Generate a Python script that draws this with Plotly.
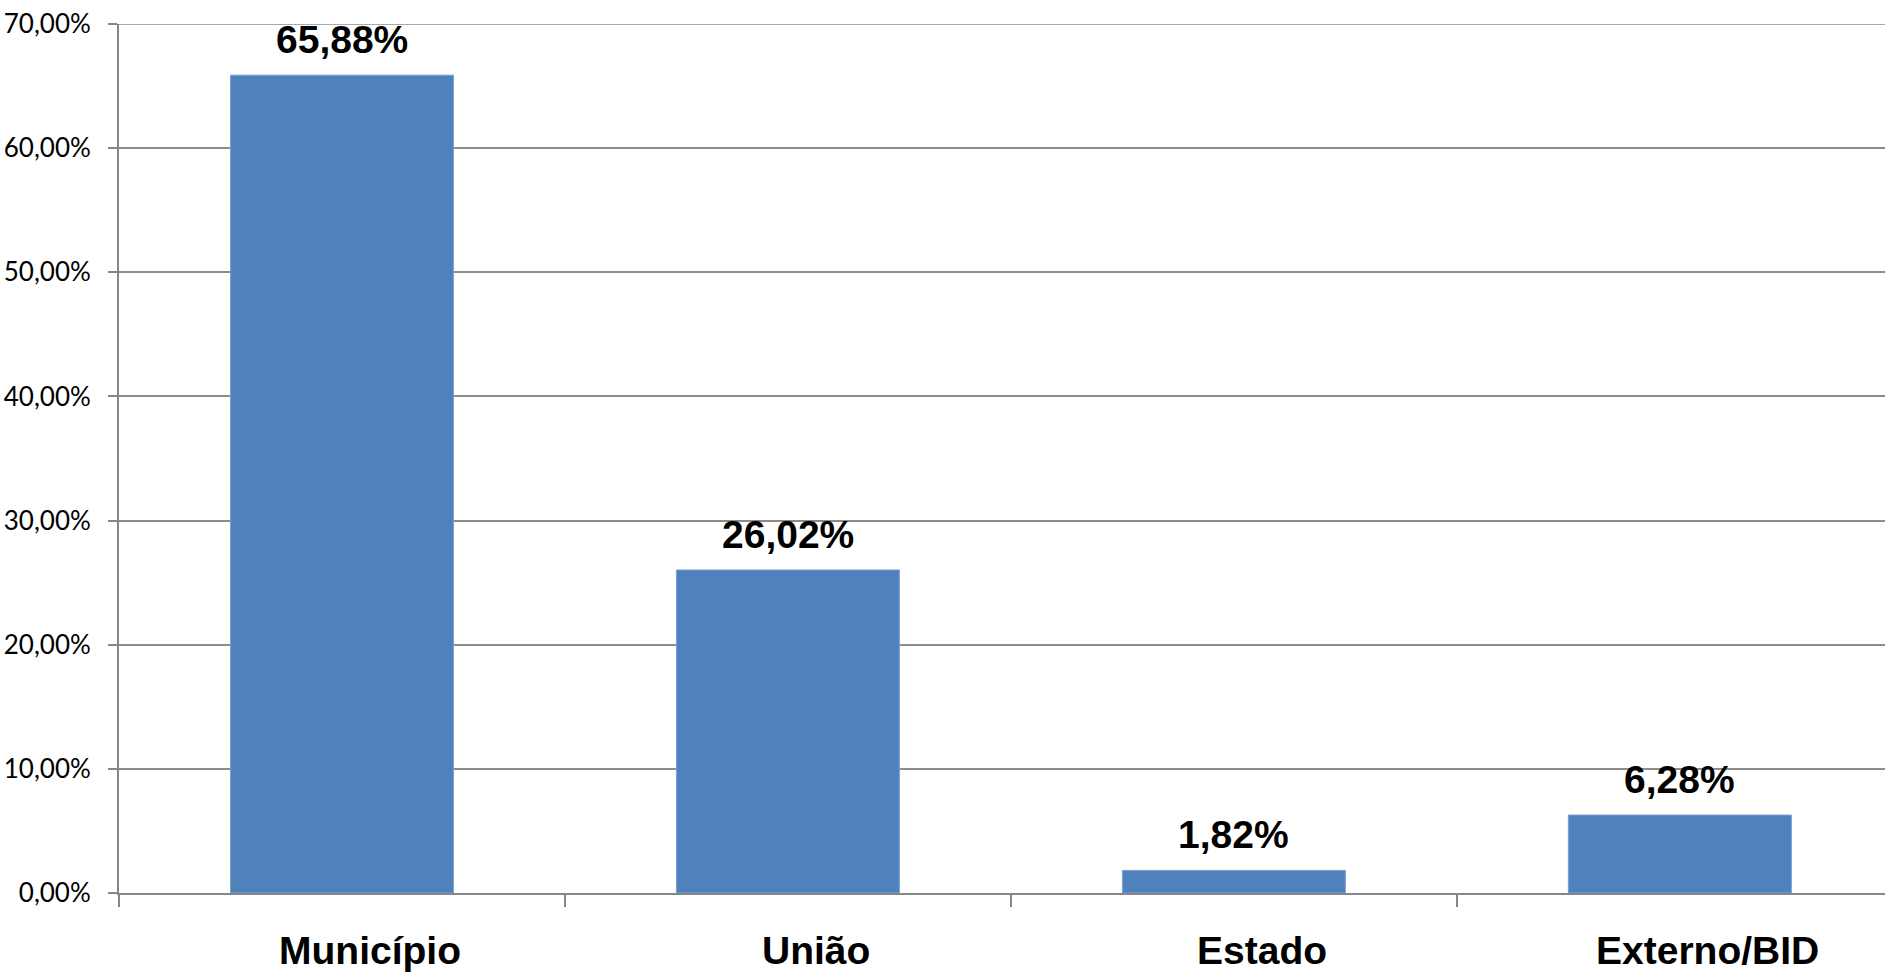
import plotly.graph_objects as go

categories = ["Município", "União", "Estado", "Externo/BID"]
values = [0.6588, 0.2602, 0.0182, 0.0628]
value_labels = ["65,88%", "26,02%", "1,82%", "6,28%"]
y_tickvals = [0, 0.1, 0.2, 0.3, 0.4, 0.5, 0.6, 0.7]
y_ticktext = ["0,00%", "10,00%", "20,00%", "30,00%", "40,00%", "50,00%", "60,00%", "70,00%"]

fig = go.Figure()
fig.add_trace(go.Bar(
    x=categories, y=values,
    marker=dict(color="#4F81BD", line=dict(color="#7BA0D4", width=1)),
    width=0.5,
    hoverinfo="skip",
))

label_font = dict(family="Liberation Sans", size=39, color="black", weight="bold")

# value labels above bars
for c, v, t in zip(categories, values, value_labels):
    fig.add_annotation(
        x=c, y=v, text=t, showarrow=False, yanchor="bottom", yshift=12,
        font=label_font,
    )

# category labels below the axis (offset right as in the reference)
for c in categories:
    fig.add_annotation(
        x=c, y=0, text=c, showarrow=False, yanchor="top", yshift=-34, xshift=28,
        font=label_font,
    )

# top gridline (plotly drops gridlines lying on the plot edge)
fig.add_shape(
    type="line", xref="paper", yref="y", x0=0, x1=1,
    y0=y_tickvals[-1], y1=y_tickvals[-1],
    line=dict(color="#8C8C8C", width=1.5),
)

fig.update_layout(
    width=1885, height=974,
    margin=dict(l=119, r=0, t=24, b=81),
    paper_bgcolor="white", plot_bgcolor="white",
    showlegend=False,
    xaxis=dict(
        range=[-0.5, 3.46],
        showline=True, linecolor="#868686", linewidth=2,
        ticks="outside", tickson="boundaries", ticklen=12, tickcolor="#868686", tickwidth=2,
        showticklabels=False,
        showgrid=False,
        automargin=False,
    ),
    yaxis=dict(
        range=[0, 0.7],
        tickvals=y_tickvals, ticktext=y_ticktext,
        showline=True, linecolor="#868686", linewidth=2,
        ticks="outside", ticklen=9, tickcolor="#868686", tickwidth=2,
        showgrid=True, gridcolor="#8C8C8C", gridwidth=1.5,
        zeroline=False,
        tickfont=dict(family="Lato", size=26, color="black"),
        ticklabelstandoff=12,
        ticklabeloverflow="allow",
        automargin=False,
    ),
)

fig.write_html(
    "out.html",
    config={"displayModeBar": False},
    post_script="document.body.style.margin='0';document.body.style.overflow='hidden';",
)
